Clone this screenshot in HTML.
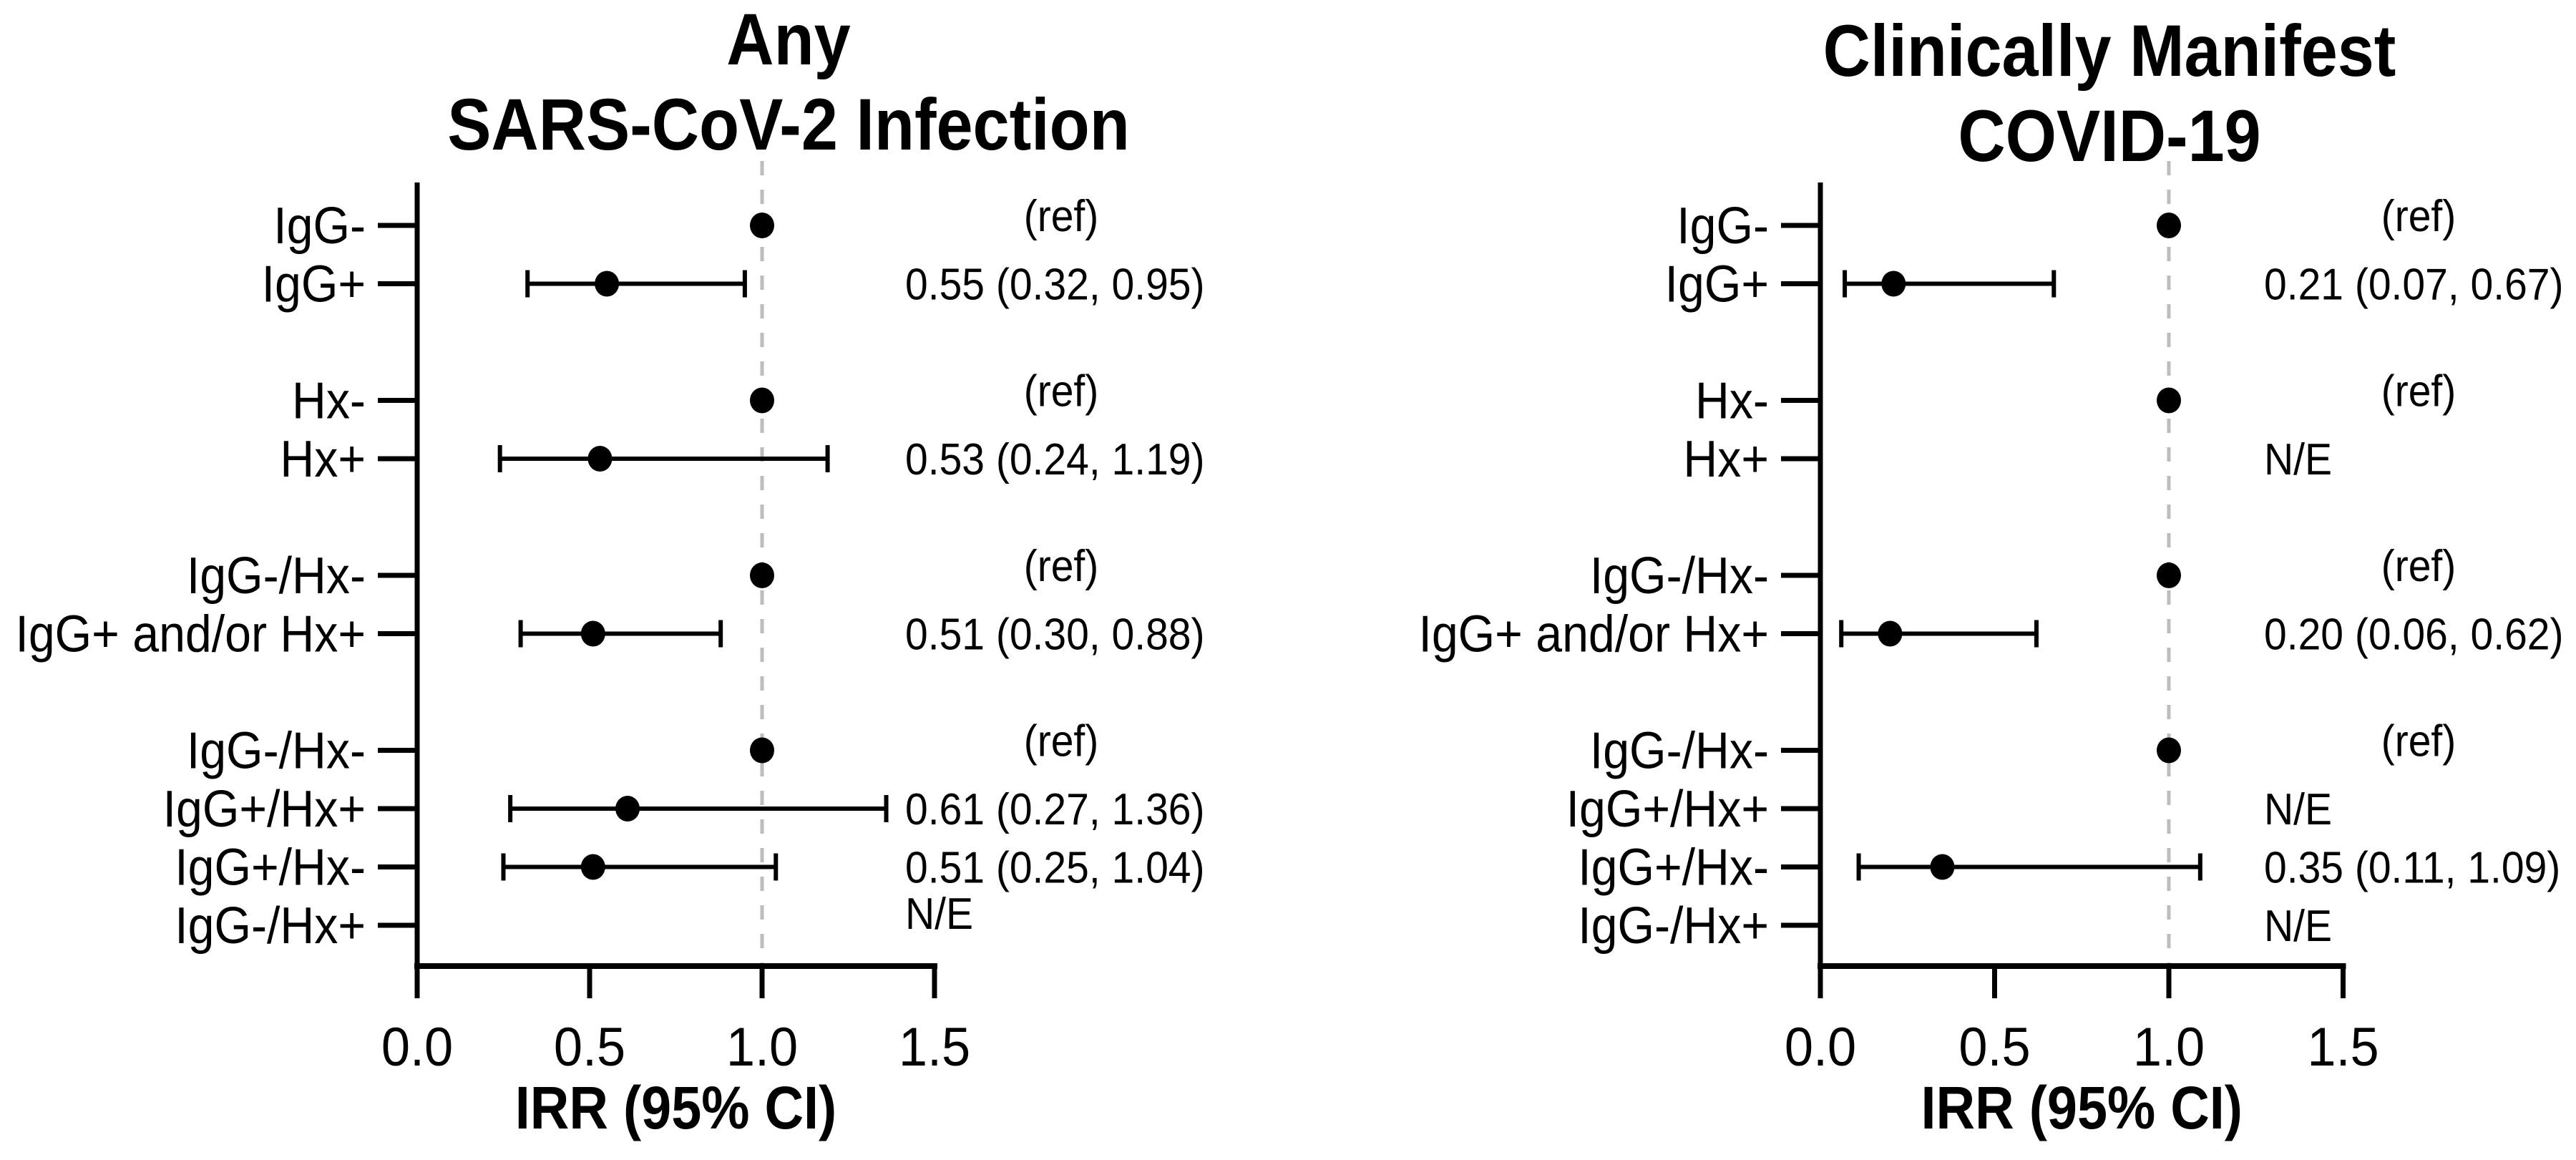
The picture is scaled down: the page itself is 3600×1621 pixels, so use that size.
<!DOCTYPE html>
<html><head><meta charset="utf-8">
<style>
html,body{margin:0;padding:0;background:#fff;}
svg{display:block;}
text{font-family:"Liberation Sans",Arial,sans-serif;fill:#000;}
</style></head>
<body>
<svg id="chart" width="3600" height="1621" viewBox="0 0 3600 1621" xmlns="http://www.w3.org/2000/svg"></svg>
<script>
const rowLabels = ["IgG-","IgG+","Hx-","Hx+","IgG-/Hx-","IgG+ and/or Hx+","IgG-/Hx-","IgG+/Hx+","IgG+/Hx-","IgG-/Hx+"];
const rowSlots = [0,1,3,4,6,7,9,10,11,12];
const xTicks = [0.0,0.5,1.0,1.5];
const xTickLabels = ["0.0","0.5","1.0","1.5"];
// Panel 1: Any SARS-CoV-2 infection (null = N/E, ref rows = 1)
const p1Est   = [1,0.55,1,0.53,1,0.51,1,0.61,0.51,null];
const p1Lo    = [null,0.32,null,0.24,null,0.30,null,0.27,0.25,null];
const p1Hi    = [null,0.95,null,1.19,null,0.88,null,1.36,1.04,null];
const p1Text  = ["(ref)","0.55 (0.32, 0.95)","(ref)","0.53 (0.24, 1.19)","(ref)","0.51 (0.30, 0.88)","(ref)","0.61 (0.27, 1.36)","0.51 (0.25, 1.04)","N/E"];
// Panel 2: Clinically manifest COVID-19
const p2Est   = [1,0.21,1,null,1,0.20,1,null,0.35,null];
const p2Lo    = [null,0.07,null,null,null,0.06,null,null,0.11,null];
const p2Hi    = [null,0.67,null,null,null,0.62,null,null,1.09,null];
const p2Text  = ["(ref)","0.21 (0.07, 0.67)","(ref)","N/E","(ref)","0.20 (0.06, 0.62)","(ref)","N/E","0.35 (0.11, 1.09)","N/E"];

const NS="http://www.w3.org/2000/svg";
const svg=document.getElementById('chart');
function mk(tag,attrs,parent){const e=document.createElementNS(NS,tag);for(const k in attrs)e.setAttribute(k,attrs[k]);(parent||svg).appendChild(e);return e;}
function txt(parent,str,x,y,size,anchor,bold,sx){
  const t=mk('text',{x:0,y:0,'text-anchor':anchor,'font-size':size,transform:`translate(${x},${y}) scale(${sx},1)`},parent);
  if(bold)t.setAttribute('font-weight','bold');
  t.textContent=str;
  return t;
}

function panel(cfg){
  const g=mk('g',{});
  
  
  const x0=cfg.x0, unit=cfg.unit;
  const xs=v=>x0+v*unit;
  const ys=s=>315+s*81.5;
  const axisY=1350, axisTop=255;
  cfg.title.forEach((t,i)=>{
    const tt=txt(g,t,cfg.titleX,cfg.titleY+i*119,102,'middle',true,0.9);
    
    
  });
  const ref=mk('line',{x1:xs(1),x2:xs(1),y1:225,y2:axisY,stroke:'#bdbdbd','stroke-width':5,'stroke-dasharray':'20 20'},g);
  
  
  const ya=mk('line',{x1:xs(0),x2:xs(0),y1:axisTop,y2:axisY+4,stroke:'#000','stroke-width':7},g);
  
  
  const xa=mk('line',{x1:xs(0)-4,x2:xs(1.5)+4,y1:axisY,y2:axisY,stroke:'#000','stroke-width':8},g);
  
  
  xTicks.forEach((v,i)=>{
    const tk=mk('line',{x1:xs(v),x2:xs(v),y1:axisY,y2:1395,stroke:'#000','stroke-width':7},g);
    
    
    const tl=txt(g,xTickLabels[i],xs(v),1489,76,'middle',false,0.95);
    
    
  });
  const at=txt(g,'IRR (95% CI)',xs(0.75),1577,84,'middle',true,0.9);
  
  
  rowLabels.forEach((lab,i)=>{
    const y=ys(rowSlots[i]);
    const tk=mk('line',{x1:xs(0)-55,x2:xs(0),y1:y,y2:y,stroke:'#000','stroke-width':7},g);
    
    
    const tl=txt(g,lab,xs(0)-72,y+25,72,'end',false,0.92);
    
    
    if(cfg.lo[i]!=null){
      const ci=mk('path',{d:`M${xs(cfg.lo[i])},${y-19}V${y+19}M${xs(cfg.lo[i])},${y}H${xs(cfg.hi[i])}M${xs(cfg.hi[i])},${y-19}V${y+19}`,stroke:'#000','stroke-width':6,fill:'none'},g);
      
      
    }
    if(cfg.est[i]!=null){
      const d=mk('ellipse',{cx:xs(cfg.est[i]),cy:y,rx:17,ry:18,fill:'#000'},g);
      
      
    }
    const t=cfg.text[i];
    let tx,anchor='start',ty=y+22;
    if(t==='(ref)'){tx=cfg.refX;anchor='middle';ty=y+8;}
    else {tx=cfg.valX; if(t==='N/E' && cfg.neUp) ty=y+5;}
    const vt=txt(g,t,tx,ty,62,anchor,false,0.92);
    
    
  });
}
panel({name:'panel-any-infection',x0:583,unit:482,title:['Any','SARS-CoV-2 Infection'],titleX:1102,titleY:90,est:p1Est,lo:p1Lo,hi:p1Hi,text:p1Text,valX:1265,refX:1483,neUp:true});
panel({name:'panel-clinical-covid',x0:2544,unit:487,title:['Clinically Manifest','COVID-19'],titleX:2948,titleY:106,est:p2Est,lo:p2Lo,hi:p2Hi,text:p2Text,valX:3164,refX:3380,neUp:false});
</script>
</body></html>
